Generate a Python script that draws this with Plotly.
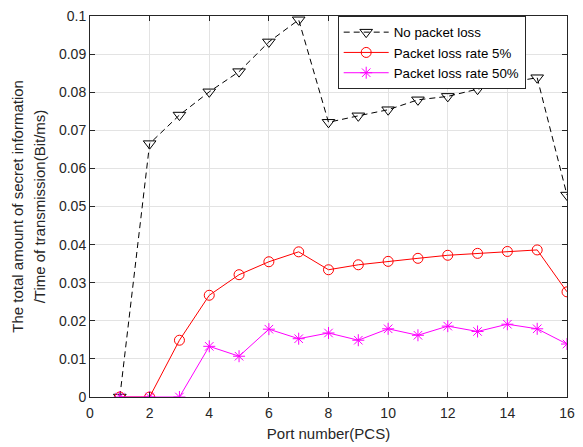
import plotly.graph_objects as go

ports = list(range(1, 17))
no_loss = [0, 0.0665, 0.0740, 0.0801, 0.0854, 0.0932, 0.0990, 0.0721, 0.0738, 0.0754,
           0.0780, 0.0789, 0.0808, 0.0825, 0.0838, 0.0530]
loss5 = [0, 0, 0.0149, 0.0267, 0.0321, 0.0355, 0.0381, 0.0334, 0.0347, 0.0356,
         0.0364, 0.0372, 0.0377, 0.0382, 0.0386, 0.0276]
loss50 = [0, 0, 0, 0.0133, 0.0107, 0.0178, 0.0153, 0.0168, 0.0149, 0.0179,
          0.0162, 0.0186, 0.0172, 0.0191, 0.0179, 0.0139]
x_ticks = [0, 2, 4, 6, 8, 10, 12, 14, 16]
y_title_lines = ["The total amount of secret information", "/Time of transmission(Bit/ms)"]

FONT = "Liberation Sans, Arial, sans-serif"

fig = go.Figure()
fig.add_trace(go.Scatter(x=ports, y=no_loss, mode="lines+markers", name="No packet loss",
                         line=dict(color="black", width=1, dash="6px,4px"),
                         marker=dict(symbol="triangle-down-open", size=11, color="black",
                                     line=dict(width=1, color="black"))))
fig.add_trace(go.Scatter(x=ports, y=loss5, mode="lines+markers", name="Packet loss rate 5%",
                         line=dict(color="#ff0000", width=1),
                         marker=dict(symbol="circle-open", size=10, color="#ff0000",
                                     line=dict(width=1, color="#ff0000"))))
fig.add_trace(go.Scatter(x=ports, y=loss50, mode="lines+markers", name="Packet loss rate 50%",
                         line=dict(color="#ff00ff", width=1),
                         marker=dict(symbol="asterisk-open", size=10, color="#ff00ff",
                                     line=dict(width=1, color="#ff00ff"))))

axis_common = dict(showline=True, linecolor="#262626", linewidth=1, mirror="ticks",
                   ticks="inside", ticklen=5, tickcolor="#262626",
                   showgrid=True, gridcolor="#e3e3e3", gridwidth=1, zeroline=False,
                   tickfont=dict(family=FONT, size=14, color="#262626"))

# y-axis title as two rotated lines (wider line spacing, like the reference)
title_x_px = [16, 39]
plot_left, plot_w = 90, 485
annotations = []
for txt, xp in zip(y_title_lines, title_x_px):
    annotations.append(dict(text=txt, xref="paper", yref="paper",
                            x=(xp - plot_left) / plot_w, y=0.5,
                            xanchor="center", yanchor="middle", textangle=-90,
                            showarrow=False,
                            font=dict(family=FONT, size=15, color="#262626")))

fig.update_layout(
    width=583, height=447,
    margin=dict(l=90, r=8, t=13, b=50),
    paper_bgcolor="white", plot_bgcolor="white",
    font=dict(family=FONT, size=14, color="#262626"),
    showlegend=True,
    legend=dict(x=(533 - plot_left) / plot_w, y=1.0, xanchor="right", yanchor="top",
                bordercolor="#262626", borderwidth=1, bgcolor="white",
                font=dict(family=FONT, size=13.3, color="black"),
                itemwidth=45),
    annotations=annotations,
    xaxis=dict(range=[0, 16], tickvals=x_ticks, ticklabelstandoff=3,
               title=dict(text="Port number(PCS)", standoff=8,
                          font=dict(family=FONT, size=15, color="#262626")),
               **axis_common),
    yaxis=dict(range=[0, 0.1], dtick=0.01, tick0=0,
               **axis_common),
)

fig.write_html("out.html")
